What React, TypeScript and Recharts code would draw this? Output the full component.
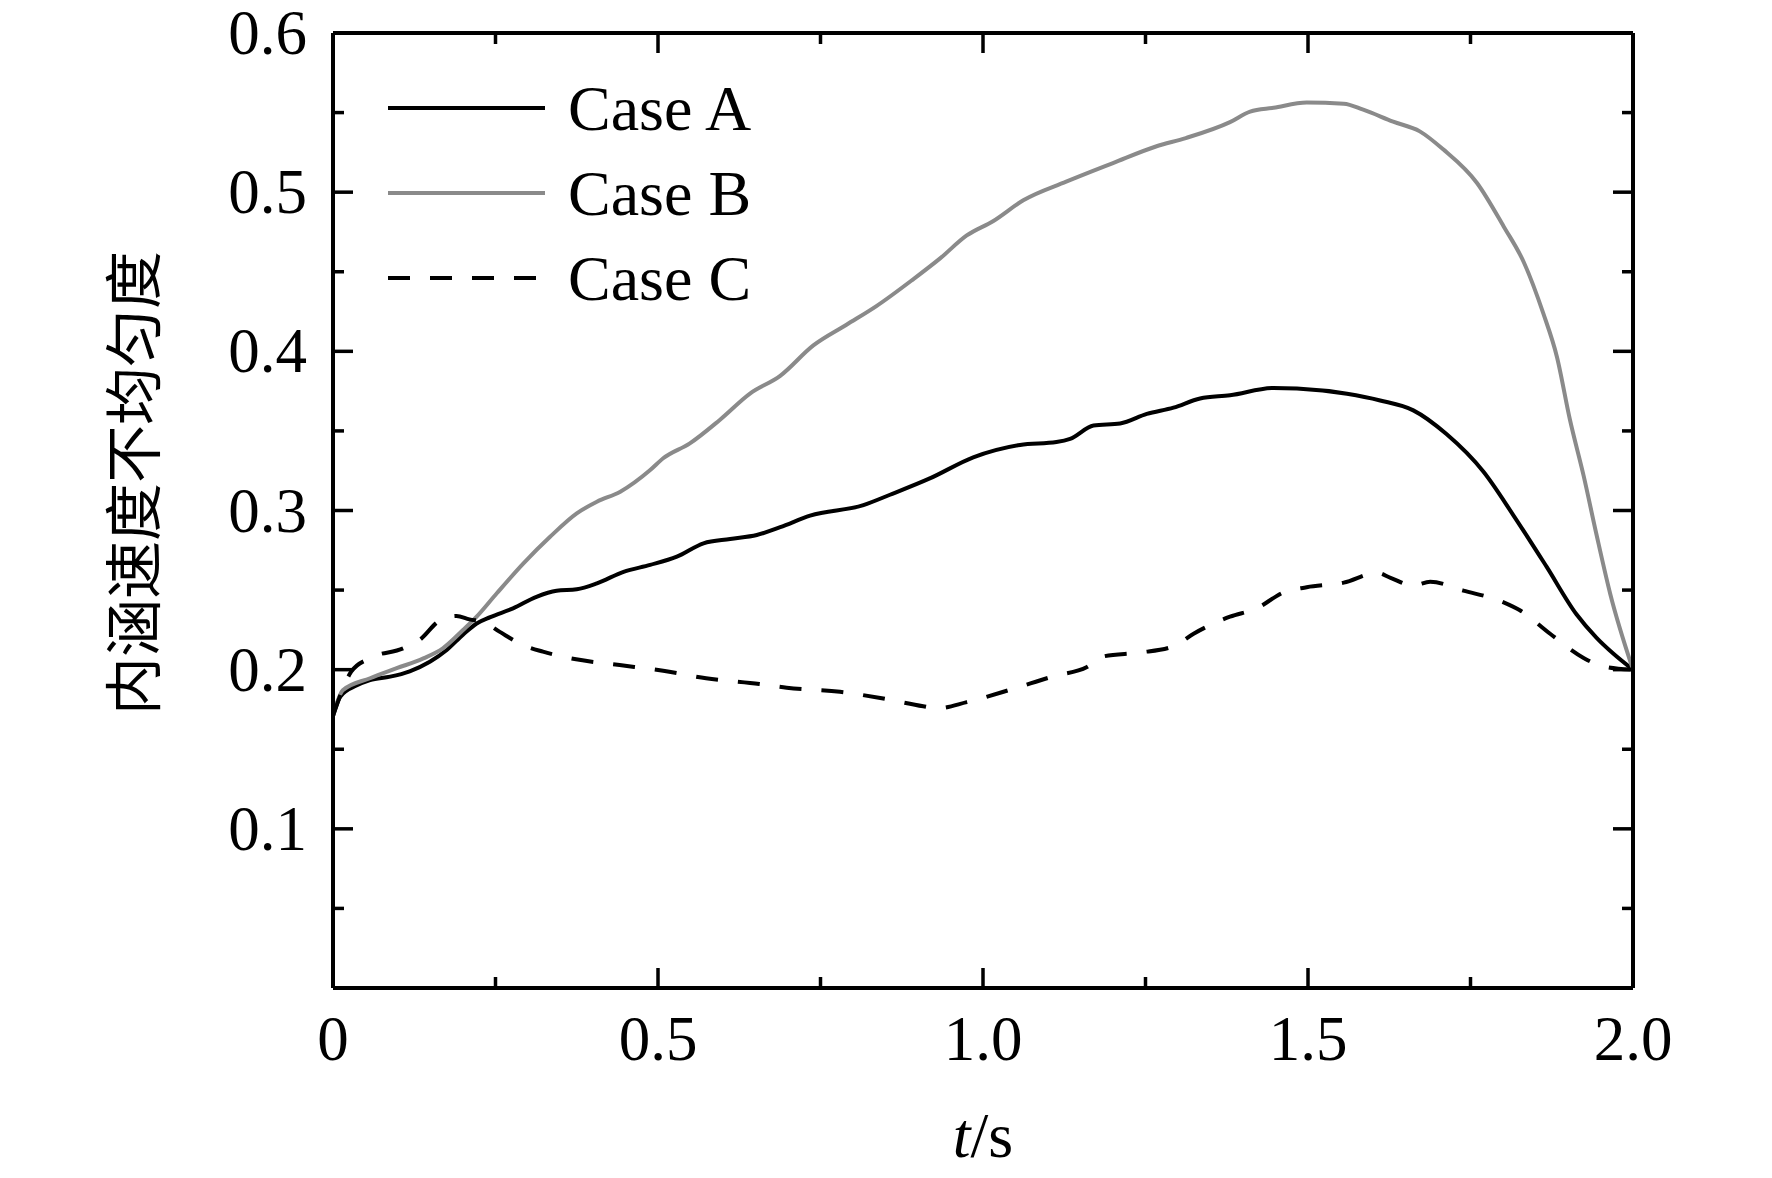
import React from "react";
import { LineChart, Line, XAxis, YAxis, Legend, Label } from "recharts";

// time samples (s) and non-uniformity values
const tA = [0, 0.011, 0.036, 0.057, 0.088, 0.118, 0.149, 0.175, 0.2, 0.221, 0.242, 0.277, 0.313, 0.344, 0.375, 0.406, 0.447, 0.488, 0.529, 0.57, 0.611, 0.652, 0.688, 0.734, 0.816, 0.857, 0.919, 0.985, 1.057, 1.113, 1.134, 1.17, 1.211, 1.252, 1.293, 1.334, 1.38, 1.447, 1.483, 1.56, 1.611, 1.662, 1.713, 1.77, 1.816, 1.867, 1.913, 1.944, 1.97, 2.0];
const caseA = [0.171, 0.183, 0.19, 0.1935, 0.1956, 0.199, 0.205, 0.2124, 0.222, 0.229, 0.233, 0.2385, 0.2458, 0.2496, 0.2505, 0.2542, 0.2615, 0.2658, 0.271, 0.2794, 0.2821, 0.2846, 0.2895, 0.2968, 0.3034, 0.3099, 0.3203, 0.3334, 0.3412, 0.343, 0.345, 0.3534, 0.3547, 0.3607, 0.3646, 0.3704, 0.3724, 0.377, 0.3766, 0.3733, 0.3691, 0.3629, 0.348, 0.3243, 0.297, 0.2647, 0.2348, 0.22, 0.21, 0.2];

const tB = [0, 0.015, 0.057, 0.098, 0.139, 0.169, 0.2, 0.221, 0.252, 0.293, 0.334, 0.375, 0.406, 0.442, 0.488, 0.508, 0.549, 0.595, 0.642, 0.688, 0.739, 0.79, 0.836, 0.893, 0.934, 0.975, 1.016, 1.062, 1.128, 1.2, 1.266, 1.312, 1.38, 1.411, 1.447, 1.498, 1.555, 1.585, 1.631, 1.672, 1.708, 1.76, 1.801, 1.832, 1.862, 1.883, 1.903, 1.924, 1.944, 1.965, 2.0];
const caseB = [0.171, 0.187, 0.1946, 0.2009, 0.2071, 0.2134, 0.2249, 0.2333, 0.248, 0.2668, 0.2835, 0.2982, 0.3055, 0.3118, 0.3254, 0.3328, 0.3422, 0.3569, 0.3736, 0.3846, 0.4037, 0.4167, 0.4284, 0.4454, 0.4584, 0.4728, 0.4819, 0.4949, 0.5066, 0.5183, 0.5287, 0.534, 0.544, 0.5506, 0.553, 0.5563, 0.5556, 0.5518, 0.5443, 0.5382, 0.5269, 0.5058, 0.4785, 0.456, 0.4238, 0.3965, 0.357, 0.3219, 0.2846, 0.2476, 0.2];

const tC = [0, 0.028, 0.056, 0.108, 0.133, 0.164, 0.19, 0.21, 0.231, 0.256, 0.292, 0.323, 0.374, 0.441, 0.508, 0.574, 0.656, 0.698, 0.78, 0.842, 0.908, 0.929, 0.975, 1.042, 1.108, 1.16, 1.185, 1.242, 1.293, 1.324, 1.38, 1.421, 1.462, 1.498, 1.555, 1.606, 1.627, 1.662, 1.688, 1.739, 1.801, 1.826, 1.873, 1.924, 1.955, 2.0];
const caseC = [0.171, 0.1987, 0.2071, 0.2134, 0.2186, 0.2308, 0.2337, 0.2316, 0.2301, 0.2239, 0.2155, 0.2113, 0.2065, 0.2029, 0.1993, 0.1946, 0.191, 0.1887, 0.1861, 0.1822, 0.177, 0.1757, 0.1796, 0.1874, 0.1958, 0.2017, 0.2083, 0.2108, 0.2147, 0.2226, 0.2333, 0.2385, 0.2485, 0.2518, 0.2547, 0.2609, 0.2577, 0.2528, 0.2552, 0.2497, 0.2423, 0.2373, 0.2224, 0.2074, 0.202, 0.2];

const xTicks = [0, 0.25, 0.5, 0.75, 1.0, 1.25, 1.5, 1.75, 2.0];
const yTicks = [0, 0.05, 0.1, 0.15, 0.2, 0.25, 0.3, 0.35, 0.4, 0.45, 0.5, 0.55, 0.6];

const toRows = (ts: number[], vs: number[]) => ts.map((t, i) => ({ t, v: vs[i] }));

const series = [
  { name: "Case A", data: toRows(tA, caseA), color: "#000000", dash: undefined },
  { name: "Case B", data: toRows(tB, caseB), color: "#8a8a8a", dash: undefined },
  { name: "Case C", data: toRows(tC, caseC), color: "#000000", dash: "22 20" },
];

const FONT = '"Liberation Serif", "Times New Roman", serif';
const MAJOR = 20;
const MINOR = 11;
const LINE_W = 4;

const isMajorY = (v: number) => Math.abs(v * 10 - Math.round(v * 10)) < 1e-6;
const isMajorX = (v: number) => Math.abs(v * 2 - Math.round(v * 2)) < 1e-6;

const LeftTick = ({ x, y, payload }: any) => {
  const major = isMajorY(payload.value);
  return (
    <g>
      <line x1={x} y1={y} x2={x + (major ? MAJOR : MINOR)} y2={y} stroke="#000" strokeWidth={3.5} />
      {major && payload.value > 0 && (
        <text x={x - 26} y={y + 21} textAnchor="end" fontFamily={FONT} fontSize={63} fill="#000">
          {payload.value.toFixed(1)}
        </text>
      )}
    </g>
  );
};

const RightTick = ({ x, y, payload }: any) => (
  <line x1={x} y1={y} x2={x - (isMajorY(payload.value) ? MAJOR : MINOR)} y2={y} stroke="#000" strokeWidth={3.5} />
);

const BottomTick = ({ x, y, payload }: any) => {
  const major = isMajorX(payload.value);
  return (
    <g>
      <line x1={x} y1={y} x2={x} y2={y - (major ? MAJOR : MINOR)} stroke="#000" strokeWidth={3.5} />
      {major && (
        <text x={x} y={y + 72} textAnchor="middle" fontFamily={FONT} fontSize={63} fill="#000">
          {payload.value === 0 ? "0" : payload.value.toFixed(1)}
        </text>
      )}
    </g>
  );
};

const TopTick = ({ x, y, payload }: any) => (
  <line x1={x} y1={y} x2={x} y2={y + (isMajorX(payload.value) ? MAJOR : MINOR)} stroke="#000" strokeWidth={3.5} />
);

const LegendBox = () => (
  <svg width={420} height={260}>
    {series.map((s, i) => (
      <g key={s.name}>
        <line x1={0} y1={50 + i * 85} x2={157} y2={50 + i * 85} stroke={s.color} strokeWidth={LINE_W} strokeDasharray={s.dash} />
        <text x={180} y={50 + i * 85} dominantBaseline="central" fontFamily={FONT} fontSize={64} fill="#000">
          {s.name}
        </text>
      </g>
    ))}
  </svg>
);

const axisLine = { stroke: "#000", strokeWidth: 4 };

export default function App() {
  return (
    <LineChart width={1764} height={1170} margin={{ top: 5, right: 119, bottom: 90, left: 225 }}>
      <XAxis
        xAxisId="b"
        dataKey="t"
        type="number"
        domain={[0, 2]}
        ticks={xTicks}
        height={100}
        tickSize={0}
        tickMargin={0}
        tickLine={false}
        axisLine={axisLine}
        tick={<BottomTick />}
        interval={0}
        allowDataOverflow
      >
        <Label
          content={({ viewBox }: any) => (
            <text x={viewBox.x + viewBox.width / 2} y={viewBox.y + 169} textAnchor="middle" fontFamily={FONT} fontSize={64} fill="#000">
              <tspan fontStyle="italic">t</tspan>
              <tspan>/s</tspan>
            </text>
          )}
        />
      </XAxis>
      <XAxis
        xAxisId="t"
        orientation="top"
        dataKey="t"
        type="number"
        domain={[0, 2]}
        ticks={xTicks}
        height={20}
        tickSize={0}
        tickMargin={0}
        tickLine={false}
        axisLine={axisLine}
        tick={<TopTick />}
        interval={0}
        allowDataOverflow
      />
      <YAxis
        yAxisId="l"
        type="number"
        domain={[0, 0.6]}
        ticks={yTicks}
        width={100}
        tickSize={0}
        tickMargin={0}
        tickLine={false}
        axisLine={axisLine}
        tick={<LeftTick />}
        interval={0}
        allowDataOverflow
      >
        <Label
          content={({ viewBox }: any) => {
            const cx = viewBox.x - 103;
            const cy = viewBox.y + 450;
            return (
              <text
                x={cx}
                y={cy}
                transform={`rotate(-90 ${cx} ${cy})`}
                textAnchor="middle"
                dominantBaseline="central"
                fontFamily='"Noto Sans CJK SC", sans-serif'
                fontSize={58}
                fill="#000"
              >
                内涵速度不均匀度
              </text>
            );
          }}
        />
      </YAxis>
      <YAxis
        yAxisId="r"
        orientation="right"
        type="number"
        domain={[0, 0.6]}
        ticks={yTicks}
        width={20}
        tickSize={0}
        tickMargin={0}
        tickLine={false}
        axisLine={axisLine}
        tick={<RightTick />}
        interval={0}
        allowDataOverflow
      />
      <Legend
        layout="horizontal"
        verticalAlign="middle"
        align="center"
        wrapperStyle={{ left: 380, top: 50, width: 420 }}
        content={() => <LegendBox />}
      />
      {series.map((s) => (
        <Line
          key={s.name}
          xAxisId="b"
          yAxisId="l"
          data={s.data}
          dataKey="v"
          name={s.name}
          type="monotone"
          stroke={s.color}
          strokeWidth={LINE_W}
          strokeDasharray={s.dash}
          dot={false}
          activeDot={false}
          isAnimationActive={false}
        />
      ))}
    </LineChart>
  );
}
